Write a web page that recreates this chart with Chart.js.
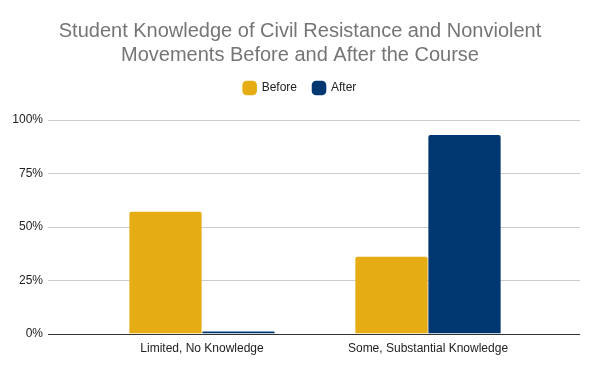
<!DOCTYPE html>
<html>
<head>
<meta charset="utf-8">
<script src="https://cdn.jsdelivr.net/npm/chart.js@4"></script>
<style>
  html, body { margin: 0; padding: 0; background: #fff; }
  #wrap { width: 600px; height: 371px; }
</style>
</head>
<body>
<div id="wrap"><canvas id="chart" width="600" height="371"></canvas></div>
<script>
// data
const categories = ["Limited, No Knowledge", "Some, Substantial Knowledge"];
const before = [0.57, 0.36];
const after = [0.01, 0.93];
const seriesNames = ["Before", "After"];
const yTicks = [0, 0.25, 0.5, 0.75, 1];

// gridlines run wider than the bar area, like the original
const wideGrid = {
  id: "wideGrid",
  beforeDatasetsDraw(chart) {
    const y = chart.scales.y;
    const area = chart.chartArea;
    const ctx = chart.ctx;
    ctx.save();
    yTicks.forEach((v) => {
      const py = Math.round(y.getPixelForValue(v)) + 0.5;
      ctx.beginPath();
      ctx.strokeStyle = v === 0 ? "#333333" : "#cccccc";
      ctx.lineWidth = 1;
      ctx.moveTo(area.left - 41, py);
      ctx.lineTo(area.right + 39, py);
      ctx.stroke();
    });
    ctx.restore();
  },
};

Chart.defaults.font.family = "'Liberation Sans', Arial, sans-serif";

new Chart(document.getElementById("chart"), {
  type: "bar",
  data: {
    labels: categories,
    datasets: [
      {
        label: seriesNames[0],
        data: before,
        backgroundColor: "#e6ac13",
        borderRadius: 2,
        borderSkipped: "bottom",
      },
      {
        label: seriesNames[1],
        data: after,
        backgroundColor: "#003770",
        borderRadius: 2,
        borderSkipped: "bottom",
      },
    ],
  },
  options: {
    responsive: false,
    animation: false,
    categoryPercentage: 0.646,
    barPercentage: 0.99,
    layout: { autoPadding: false, padding: { left: 0, right: 0, top: 0, bottom: 7 } },
    plugins: {
      title: {
        display: true,
        text: [
          "Student Knowledge of Civil Resistance and Nonviolent",
          "Movements Before and After the Course",
        ],
        color: "#757575",
        font: { size: 20, weight: "normal" },
        lineHeight: 1.15,
        padding: { top: 19, bottom: -1 },
      },
      // empty spacer between legend and plot
      subtitle: {
        display: true,
        text: "",
        weight: 500,
        font: { size: 10, lineHeight: 1 },
        padding: { top: 6, bottom: 0 },
      },
      legend: {
        labels: {
          boxWidth: 12,
          boxHeight: 12,
          padding: 16,
          color: "#222222",
          font: { size: 12 },
          usePointStyle: true,
          pointStyle: "rectRounded",
        },
      },
      tooltip: { enabled: false },
    },
    scales: {
      x: {
        grid: { display: false, drawTicks: false },
        border: { display: false },
        ticks: { color: "#222222", font: { size: 12 }, padding: 8, maxRotation: 0 },
      },
      y: {
        min: 0,
        max: 1,
        afterBuildTicks: (s) => { s.ticks = yTicks.map((v) => ({ value: v })); },
        afterFit: (s) => {
          s.width = 89;
          s.paddingTop = 7;
          s.paddingBottom = 7;
        },
        grid: { display: false, drawTicks: false },
        border: { display: false },
        ticks: {
          color: "#222222",
          font: { size: 12 },
          padding: 46,
          callback: (v) => Math.round(v * 100) + "%",
        },
      },
      // empty right-hand axis keeps the margin right of the bars
      yRight: {
        position: "right",
        afterFit: (s) => { s.width = 59; },
        grid: { display: false, drawTicks: false },
        border: { display: false },
        ticks: { display: false },
      },
    },
  },
  plugins: [wideGrid],
});
</script>
</body>
</html>
